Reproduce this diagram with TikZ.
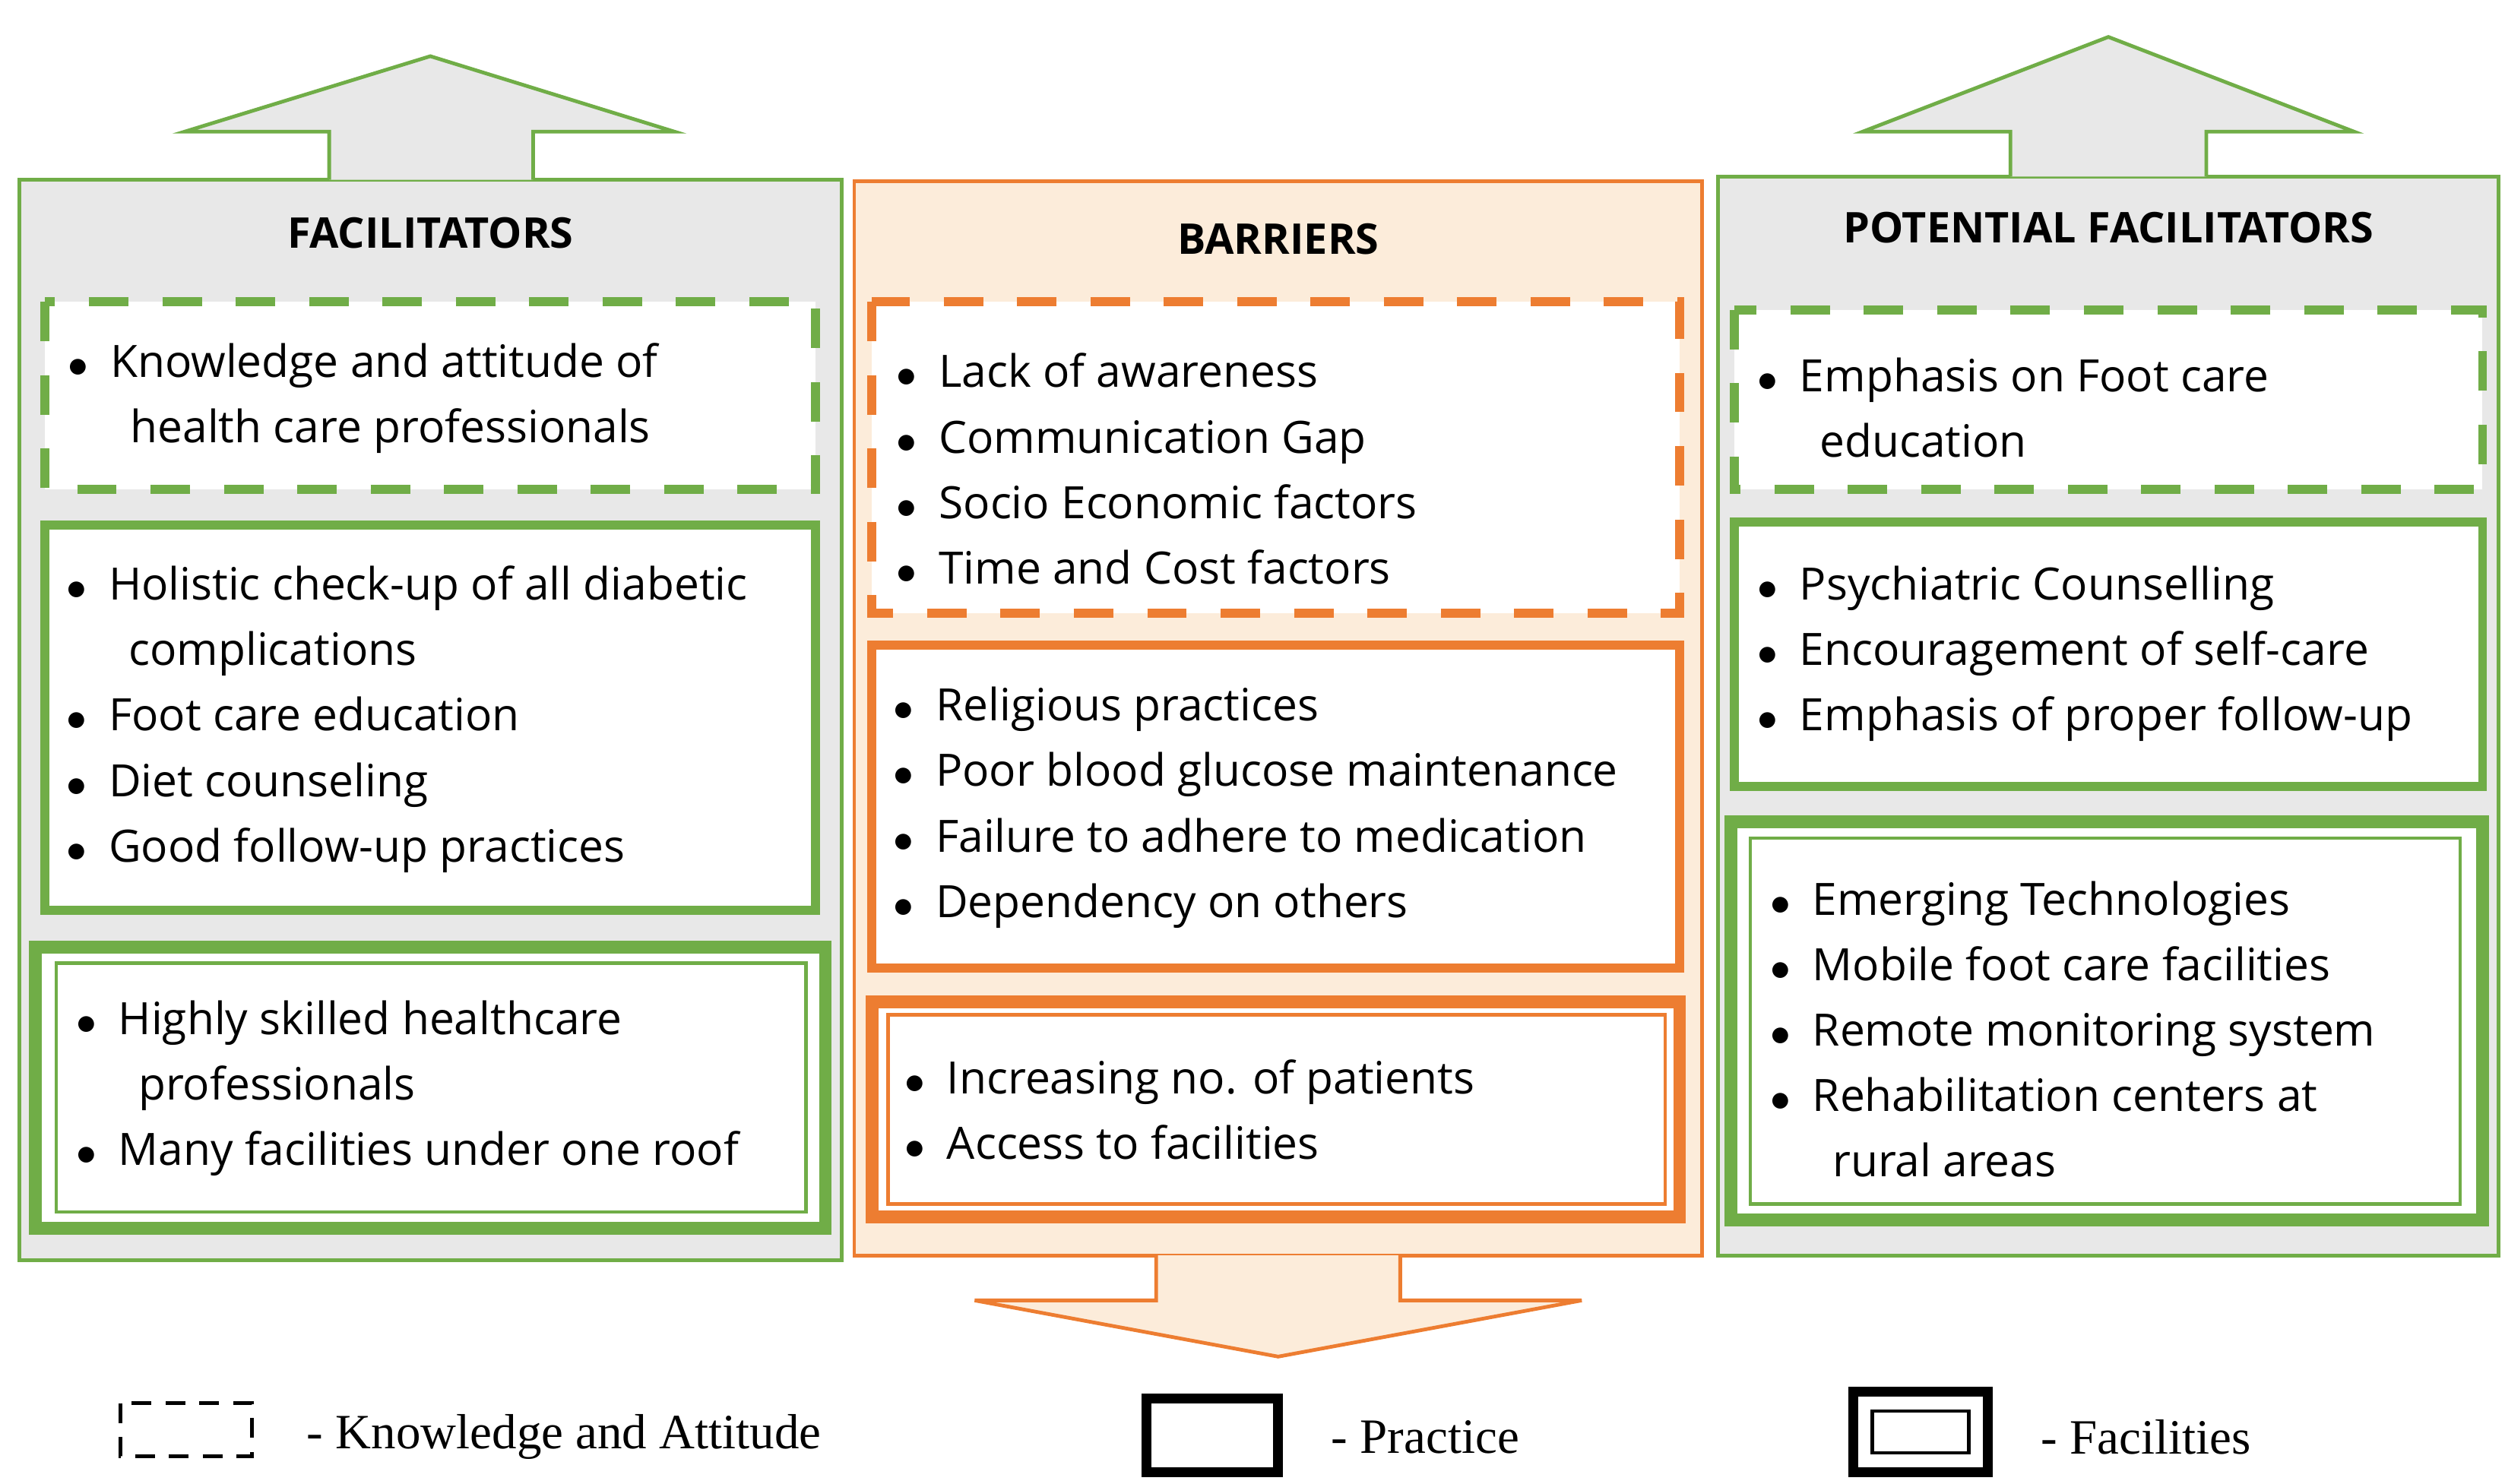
\documentclass[tikz,border=0pt]{standalone}
\usepackage{fontspec}
\setmainfont{Open Sans}
\newfontfamily\legendfont{Liberation Serif}
\definecolor{fgreen}{RGB}{112,173,71}
\definecolor{borange}{RGB}{237,125,49}
\definecolor{bpeach}{RGB}{252,236,218}
\definecolor{ftex}{RGB}{232,232,232}
\tikzset{
  panel/.style={draw=#1, line width=1.3pt},
  know/.style={draw=#1, dashed, dash pattern=on 14pt off 12pt, line width=3.2pt, fill=white},
  prac/.style={draw=#1, line width=3.2pt, fill=white},
  facil/.style={draw=#1, line width=4.5pt, fill=white},
  faciln/.style={draw=#1, line width=1.2pt},
  items/.style={anchor=west, align=left, font=\fontsize{15.8}{23.2}\selectfont, inner sep=0pt},
  title/.style={font=\fontsize{15}{18}\bfseries},
  leg/.style={anchor=west, font=\legendfont\fontsize{17.5}{20}\selectfont},
}
\newcommand{\bl}{\makebox[0.95em][l]{\Large$\bullet$}}
\newcommand{\cont}{\hspace{1.4em}}
\begin{document}
\begin{tikzpicture}[x=0.02cm, y=-0.02cm]
\useasboundingbox (0,0) rectangle (1560,924);

% facilitators panel
\filldraw[panel=fgreen, fill=ftex] (12,112) rectangle (524,785);
\filldraw[panel=fgreen, fill=ftex] (205,112) -- (205,82) -- (115,82) -- (268,35) -- (420,82) -- (332,82) -- (332,112);
\node[title] (tf) at (268,145) {FACILITATORS};
\draw[know=fgreen] (28,188) rectangle (508,305);
\node[items] (fk) at (42,248) {\bl Knowledge and attitude of\\\cont health care professionals};
\draw[prac=fgreen] (28,327) rectangle (508,567);
\node[items] (fp) at (41,448) {\bl Holistic check-up of all diabetic\\\cont complications\\\bl Foot care education\\\bl Diet counseling\\\bl Good follow-up practices};
\draw[facil=fgreen] (22,590) rectangle (514,765);
\draw[faciln=fgreen] (35,600) rectangle (502,755);
\node[items] (ff) at (47,678) {\bl Highly skilled healthcare\\\cont professionals\\\bl Many facilities under one roof};

% barriers panel
\filldraw[panel=borange, fill=bpeach] (532,113) rectangle (1060,782);
\filldraw[panel=borange, fill=bpeach] (720,782) -- (720,810) -- (607,810) -- (796,845) -- (985,810) -- (872,810) -- (872,782);
\node[title] (tb) at (796,149) {BARRIERS};
\draw[know=borange] (543,188) rectangle (1046,382);
\node[items] (bk) at (558,292) {\bl Lack of awareness\\\bl Communication Gap\\\bl Socio Economic factors\\\bl Time and Cost factors};
\draw[prac=borange] (543,402) rectangle (1046,603);
\node[items] (bp) at (556,503) {\bl Religious practices\\\bl Poor blood glucose maintenance\\\bl Failure to adhere to medication\\\bl Dependency on others};
\draw[facil=borange] (543,624) rectangle (1046,758);
\draw[faciln=borange] (553,632) rectangle (1037,750);
\node[items] (bf) at (563,691) {\bl Increasing no. of patients\\\bl Access to facilities};

% potential facilitators panel
\filldraw[panel=fgreen, fill=ftex] (1070,110) rectangle (1556,782);
\filldraw[panel=fgreen, fill=ftex] (1252,110) -- (1252,82) -- (1160,82) -- (1313,23) -- (1466,82) -- (1374,82) -- (1374,110);
\node[title] (tp) at (1313,142) {POTENTIAL FACILITATORS};
\draw[know=fgreen] (1080,193) rectangle (1546,305);
\node[items] (pk) at (1094,254) {\bl Emphasis on Foot care\\\cont education};
\draw[prac=fgreen] (1080,325) rectangle (1546,490);
\node[items] (pp) at (1094,407) {\bl Psychiatric Counselling\\\bl Encouragement of self-care\\\bl Emphasis of proper follow-up};
\draw[facil=fgreen] (1078,512) rectangle (1546,760);
\draw[faciln=fgreen] (1090,522) rectangle (1532,750);
\node[items] (pf) at (1102,641) {\bl Emerging Technologies\\\bl Mobile foot care facilities\\\bl Remote monitoring system\\\bl Rehabilitation centers at\\\cont rural areas};

% legend
\draw[black, line width=1.2pt, dash pattern=on 7pt off 5pt] (75,874) rectangle (157,907);
\node[leg] (lk) at (185,895) {- Knowledge and Attitude};
\draw[black, line width=3.5pt] (714,871) rectangle (796,917);
\node[leg] (lp) at (823,895) {- Practice};
\draw[black, line width=3.5pt] (1154,867) rectangle (1238,917);
\draw[black, line width=1.2pt] (1166,879) rectangle (1226,905);
\node[leg] (lf) at (1265,895) {- Facilities};
\end{tikzpicture}
\end{document}
